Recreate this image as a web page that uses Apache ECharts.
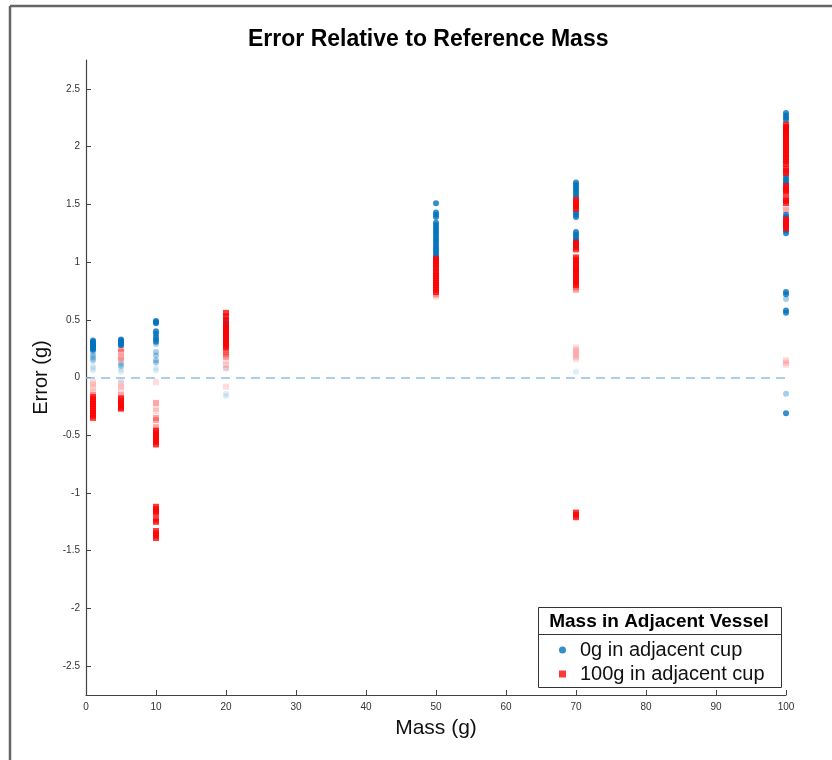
<!DOCTYPE html>
<html lang="en">
<head>
    <meta charset="UTF-8">
    <title>Error Relative to Reference Mass</title>
    <style>
        html,body{
            padding: 0;
            margin: 0;
            width: 100%;
            height: 100%;
            background: #fff;
        }
        .chart{
            width: 832px;
            height: 760px;
        }
    </style>
    <script src="https://cdn.jsdelivr.net/npm/echarts@6/dist/echarts.min.js"></script>
</head>
<body>
<div class="chart"></div>
<script>
    // reference masses (g), one column of readings per mass
    let masses = [1, 5, 10, 20, 50, 70, 100];

    // error readings (g), grouped by how strongly they show in the plot
    let blueStrong = [
        [0.32, 0.31, 0.30, 0.29, 0.28, 0.27, 0.26, 0.25, 0.24],
        [0.33, 0.32, 0.31, 0.30, 0.29, 0.28],
        [0.49, 0.48, 0.47, 0.40, 0.38, 0.35, 0.33, 0.31],
        [0.49, 0.47, 0.45, 0.42, 0.40, 0.37, 0.33],
        [1.51, 1.43, 1.41, 1.39, 1.34, 1.32, 1.30, 1.28, 1.26, 1.24, 1.22, 1.20, 1.18, 1.16, 1.14, 1.12, 1.10, 1.08, 1.06, 1.04],
        [1.69, 1.67, 1.65, 1.63, 1.61, 1.59, 1.57, 1.43, 1.41, 1.39, 1.26, 1.24, 1.22, 1.20, 1.18],
        [2.29, 2.27, 2.25, 2.23, 2.16, 2.14, 2.12, 1.74, 1.72, 1.70, 1.68, 1.41, 1.39, 1.27, 1.25, 0.74, 0.72, 0.58, 0.56, -0.31]
    ];
    let blueMid = [
        [0.22, 0.19, 0.17, 0.15],
        [0.12, 0.10],
        [0.29, 0.22, 0.19, 0.15, 0.13],
        [0.30, 0.27],
        [0.94],
        [0.92, 1.48],
        [0.68, -0.14]
    ];
    let blueFaint = [
        [0.10, 0.08, 0.06],
        [0.07, 0.05, -0.03],
        [0.08, 0.06],
        [0.08, -0.14, -0.16],
        [],
        [0.05],
        []
    ];
    let redStrong = [
        [-0.17, -0.19, -0.21, -0.23, -0.25, -0.27, -0.29, -0.31, -0.33, -0.35],
        [-0.18, -0.20, -0.22, -0.24, -0.26, -0.27],
        [-0.46, -0.48, -0.50, -0.52, -0.54, -0.56, -0.58, -1.12, -1.14, -1.16, -1.18, -1.23, -1.25, -1.33, -1.35, -1.37, -1.39],
        [0.56, 0.53, 0.50, 0.46, 0.44, 0.42, 0.40, 0.38, 0.36, 0.34, 0.32, 0.30, 0.28, 0.26],
        [1.03, 1.01, 0.99, 0.97, 0.95, 0.92, 0.90, 0.88, 0.86, 0.84, 0.82, 0.80, 0.78, 0.76, 0.74],
        [1.54, 1.52, 1.50, 1.48, 1.46, 1.17, 1.15, 1.13, 1.11, 1.04, 1.02, 1.00, 0.98, 0.96, 0.94, 0.92, 0.90, 0.88, 0.86, 0.84, 0.82, 0.80, -1.17, -1.19, -1.21],
        [2.19, 2.17, 2.15, 2.13, 2.11, 2.09, 2.07, 2.05, 2.03, 2.01, 1.99, 1.97, 1.95, 1.93, 1.91, 1.89, 1.87, 1.85, 1.81, 1.79, 1.77, 1.66, 1.64, 1.62, 1.60, 1.55, 1.53, 1.51, 1.37, 1.35, 1.33, 1.31, 1.29]
    ];
    let redMid = [
        [-0.15],
        [0.25, 0.22, 0.17, -0.15],
        [-0.22, -0.35, -0.37, -0.43],
        [0.24, 0.22, 0.20, 0.18],
        [0.72],
        [0.78, 0.76],
        [1.45]
    ];
    let redFaint = [
        [-0.04, -0.06, -0.09, -0.12],
        [0.15, -0.05, -0.08, -0.10],
        [-0.04, -0.27, -0.29],
        [0.14, 0.11, 0.08, -0.08],
        [0.70],
        [0.26, 0.24, 0.22, 0.20, 0.18, 0.16],
        [0.15, 0.13, 0.11]
    ];

    let yTicks = [-2.5, -2, -1.5, -1, -0.5, 0, 0.5, 1, 1.5, 2, 2.5];

    let blueName = '0g in adjacent cup';
    let redName = '100g in adjacent cup';
    let font = '"Liberation Sans", Arial, sans-serif';

    function toPoints(groups) {
        let pts = [];
        groups.forEach((vals, i) => {
            vals.forEach(v => pts.push([masses[i], v]));
        });
        return pts;
    }

    function makeSeries(name, groups, color, symbol, opacity, z) {
        return {
            name: name,
            type: 'scatter',
            symbol: symbol,
            symbolSize: 6,
            z: z,
            silent: true,
            itemStyle: {color: color, opacity: opacity},
            data: toPoints(groups)
        };
    }

    // red (100g) is plotted on top of blue, as in the original figure
    let series = [
        makeSeries(blueName, blueStrong, '#0072BD', 'circle', 0.8, 5),
        makeSeries(redName, redStrong, '#FF0000', 'rect', 0.78, 6),
        makeSeries(blueName, blueMid, '#0072BD', 'circle', 0.35, 3),
        makeSeries(redName, redMid, '#FF0000', 'rect', 0.35, 4),
        makeSeries(blueName, blueFaint, '#0072BD', 'circle', 0.12, 3),
        makeSeries(redName, redFaint, '#FF0000', 'rect', 0.14, 4)
    ];

    // dashed zero line
    series[0].markLine = {
        silent: true,
        symbol: 'none',
        label: {show: false},
        lineStyle: {color: '#94bde3', type: [9, 6], width: 1.5},
        data: [{yAxis: 0}]
    };

    let chart = echarts.init(document.querySelector('.chart'), null, {renderer: 'canvas'});

    let axisColor = '#444';

    let option = {
        backgroundColor: '#fff',
        animation: false,
        textStyle: {fontFamily: font},
        title: {
            text: 'Error Relative to Reference Mass',
            left: 248,
            top: 28,
            padding: 0,
            textStyle: {fontSize: 23, fontWeight: 'bold', color: '#000', fontFamily: font}
        },
        grid: {left: 86, right: 46, top: 60, bottom: 65, containLabel: false},
        xAxis: {
            type: 'value',
            min: 0,
            max: 100,
            interval: 10,
            name: 'Mass (g)',
            nameLocation: 'middle',
            nameGap: 23,
            nameTextStyle: {fontSize: 21, color: '#111', fontFamily: font},
            axisLine: {onZero: false, lineStyle: {color: axisColor, width: 1.2}},
            axisTick: {inside: true, length: 5, lineStyle: {color: axisColor}},
            axisLabel: {fontSize: 10, color: '#333', margin: 7},
            splitLine: {show: false}
        },
        yAxis: {
            type: 'value',
            min: -2.75,
            max: 2.75,
            name: 'Error (g)',
            nameLocation: 'middle',
            nameGap: 31,
            nameTextStyle: {fontSize: 20, color: '#111', fontFamily: font},
            axisLine: {show: true, onZero: false, lineStyle: {color: axisColor, width: 1.2}},
            axisTick: {show: true, inside: true, length: 5, customValues: yTicks, lineStyle: {color: axisColor}},
            axisLabel: {fontSize: 10, color: '#333', margin: 6, customValues: yTicks},
            splitLine: {show: false}
        },
        legend: {
            orient: 'vertical',
            left: 559,
            top: 640,
            padding: 0,
            itemGap: 4,
            itemWidth: 7,
            itemHeight: 7,
            selectedMode: false,
            data: [
                {name: blueName, icon: 'circle'},
                {name: redName, icon: 'rect'}
            ],
            textStyle: {fontSize: 20, color: '#111', lineHeight: 20, padding: [0, 0, 0, 9], fontFamily: font}
        },
        graphic: [
            {
                type: 'line',
                z: 10,
                shape: {x1: 10, y1: 6, x2: 832, y2: 6},
                style: {stroke: '#666', lineWidth: 2.5}
            },
            {
                type: 'line',
                z: 10,
                shape: {x1: 10, y1: 6, x2: 10, y2: 760},
                style: {stroke: '#666', lineWidth: 2.5}
            },
            {
                type: 'rect',
                z: 1,
                shape: {x: 538.5, y: 607.5, width: 243, height: 80},
                style: {fill: '#fff', stroke: '#333', lineWidth: 1}
            },
            {
                type: 'line',
                z: 2,
                shape: {x1: 538.5, y1: 634.5, x2: 781.5, y2: 634.5},
                style: {stroke: '#333', lineWidth: 1}
            },
            {
                type: 'text',
                z: 2,
                x: 659,
                y: 622,
                style: {
                    text: 'Mass in Adjacent Vessel',
                    fill: '#000',
                    font: 'bold 19px ' + font,
                    align: 'center',
                    verticalAlign: 'middle'
                }
            }
        ],
        series: series
    };

    chart.setOption(option);
</script>
</body>
</html>
